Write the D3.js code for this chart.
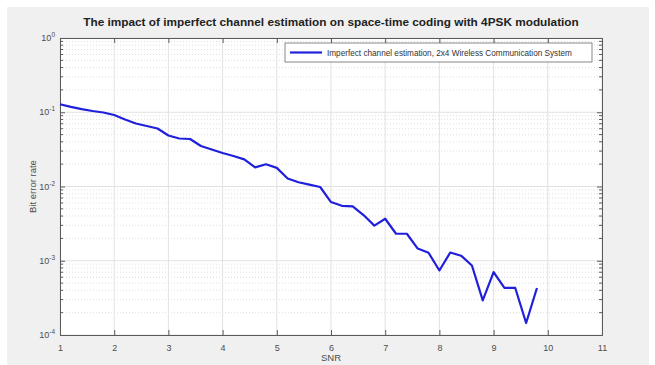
<!DOCTYPE html>
<html>
<head>
<meta charset="utf-8">
<script src="https://cdn.jsdelivr.net/npm/d3@7"></script>
<style>
	body { margin: 0; background: #ffffff; }
	text { font-family: "Liberation Sans", Arial, sans-serif; }
</style>
</head>
<body>
<svg id="container"></svg>
<script>
// SNR values (x) and bit error rate
var snr = [1.0, 1.2, 1.4, 1.6, 1.8, 2.0, 2.2, 2.4, 2.6, 2.8,
	3.0, 3.2, 3.4, 3.6, 3.8, 4.0, 4.2, 4.4, 4.6, 4.8,
	5.0, 5.2, 5.4, 5.6, 5.8, 6.0, 6.2, 6.4, 6.6, 6.8,
	7.0, 7.2, 7.4, 7.6, 7.8, 8.0, 8.2, 8.4, 8.6, 8.8,
	9.0, 9.2, 9.4, 9.6, 9.8];
var ber = [0.128, 0.118, 0.110, 0.104, 0.0993, 0.0918, 0.0798, 0.0706, 0.0653, 0.0604,
	0.0486, 0.0443, 0.0436, 0.0351, 0.0315, 0.0283, 0.0258, 0.0232, 0.0181, 0.0199,
	0.0178, 0.0128, 0.0114, 0.0106, 0.00985, 0.00618, 0.0055, 0.0054, 0.00413, 0.00297,
	0.00368, 0.00231, 0.00231, 0.00146, 0.00128, 0.00074, 0.00129, 0.00117, 0.000863, 0.000292,
	0.000705, 0.00043, 0.00043, 0.000145, 0.00043];

var xTicks = [1, 2, 3, 4, 5, 6, 7, 8, 9, 10, 11];
var yExponents = [0, -1, -2, -3, -4];

var titleText = "The impact of imperfect channel estimation on space-time coding with 4PSK modulation";
var legendText = "Imperfect channel estimation, 2x4 Wireless Communication System";

const W = 655, H = 365;
const margin = { top: 38, right: 53, bottom: 30, left: 60 },
	w = W - margin.left - margin.right,
	h = H - margin.top - margin.bottom;

var root = d3.select("#container")
	.attr("width", W)
	.attr("height", H);

// matlab figure grey
root.append("rect")
	.attr("x", 7).attr("y", 7)
	.attr("width", 642).attr("height", 358)
	.attr("fill", "#f0f0f0");

var svg = root.append("g")
	.attr("transform", "translate(" + margin.left + "," + margin.top + ")");

var xScale = d3.scaleLinear().domain([1, 11]).range([0, w]);
var yScale = d3.scaleLog().domain([1e-4, 1]).range([h, 0]);

svg.append("rect")
	.attr("width", w)
	.attr("height", h)
	.attr("fill", "#ffffff");

// minor y grid (dotted)
var minorY = [];
for (var e = -4; e < 0; e++) {
	for (var m = 2; m <= 9; m++) minorY.push(m * Math.pow(10, e));
}
svg.append("g").selectAll("line")
	.data(minorY)
	.enter()
	.append("line")
	.attr("x1", 0).attr("x2", w)
	.attr("y1", d => yScale(d)).attr("y2", d => yScale(d))
	.attr("stroke", "#d8d8d8")
	.attr("stroke-width", 0.8)
	.attr("stroke-dasharray", "1,2");

// major grid
svg.append("g").selectAll("line")
	.data(yExponents)
	.enter()
	.append("line")
	.attr("x1", 0).attr("x2", w)
	.attr("y1", d => yScale(Math.pow(10, d))).attr("y2", d => yScale(Math.pow(10, d)))
	.attr("stroke", "#e2e2e2");

svg.append("g").selectAll("line")
	.data(xTicks)
	.enter()
	.append("line")
	.attr("x1", d => xScale(d)).attr("x2", d => xScale(d))
	.attr("y1", 0).attr("y2", h)
	.attr("stroke", "#e2e2e2");

// axes, ticks inward on all four sides
var axisColor = "#5a5a5a";
var gX = svg.append("g")
	.attr("transform", "translate(0," + h + ")")
	.call(d3.axisBottom(xScale).tickValues(xTicks).tickSize(-5).tickPadding(10).tickFormat(d3.format("d")));
var gXt = svg.append("g")
	.call(d3.axisTop(xScale).tickValues(xTicks).tickSize(-5).tickFormat(""));

var gY = svg.append("g")
	.call(d3.axisLeft(yScale).tickValues(yExponents.map(d => Math.pow(10, d))).tickSize(-5).tickPadding(8).tickFormat(""));
var gYr = svg.append("g")
	.attr("transform", "translate(" + w + ",0)")
	.call(d3.axisRight(yScale).tickValues(yExponents.map(d => Math.pow(10, d))).tickSize(-5).tickFormat(""));

// minor y ticks
[0, w].forEach(function (x0) {
	svg.append("g").selectAll("line")
		.data(minorY)
		.enter()
		.append("line")
		.attr("x1", x0).attr("x2", x0 === 0 ? 3 : w - 3)
		.attr("y1", d => yScale(d)).attr("y2", d => yScale(d))
		.attr("stroke", axisColor);
});

[gX, gXt, gY, gYr].forEach(function (g) {
	g.selectAll(".domain").attr("stroke", axisColor);
	g.selectAll(".tick line").attr("stroke", axisColor);
	g.selectAll("text").attr("fill", "#4d4d4d").style("font-size", "9px");
});

// y tick labels as 10^n
yExponents.forEach(function (p) {
	var t = svg.append("text")
		.attr("x", -5)
		.attr("y", yScale(Math.pow(10, p)) + 3)
		.attr("text-anchor", "end")
		.attr("fill", "#4d4d4d")
		.style("font-size", "9px");
	t.append("tspan").text("10");
	t.append("tspan").attr("dy", -4).style("font-size", "6.5px").text(p);
});

// data line
var line = d3.line()
	.x((d, i) => xScale(snr[i]))
	.y(d => yScale(d));

svg.append("path")
	.datum(ber)
	.attr("d", line)
	.attr("fill", "none")
	.attr("stroke", "#2020dc")
	.attr("stroke-width", 2.2)
	.attr("stroke-linejoin", "round");

// legend
var lg = svg.append("g").attr("transform", "translate(225,5)");
lg.append("rect")
	.attr("width", 307)
	.attr("height", 19)
	.attr("fill", "#ffffff")
	.attr("stroke", "#6a6a6a")
	.attr("stroke-width", 0.8);
lg.append("line")
	.attr("x1", 5).attr("x2", 37)
	.attr("y1", 9.5).attr("y2", 9.5)
	.attr("stroke", "#2020dc")
	.attr("stroke-width", 2.2);
lg.append("text")
	.attr("x", 42).attr("y", 12.5)
	.attr("fill", "#333")
	.style("font-size", "8.2px")
	.text(legendText);

// title and axis labels
root.append("text")
	.attr("x", margin.left + w / 2)
	.attr("y", 26)
	.attr("text-anchor", "middle")
	.attr("fill", "#222")
	.style("font-size", "11.8px")
	.style("font-weight", "bold")
	.text(titleText);

root.append("text")
	.attr("x", margin.left + w / 2)
	.attr("y", 361)
	.attr("text-anchor", "middle")
	.attr("fill", "#4d4d4d")
	.style("font-size", "9.5px")
	.text("SNR");

root.append("text")
	.attr("transform", "translate(36," + (margin.top + h / 2) + ") rotate(-90)")
	.attr("text-anchor", "middle")
	.attr("fill", "#4d4d4d")
	.style("font-size", "9.5px")
	.text("Bit error rate");
</script>
</body>
</html>
